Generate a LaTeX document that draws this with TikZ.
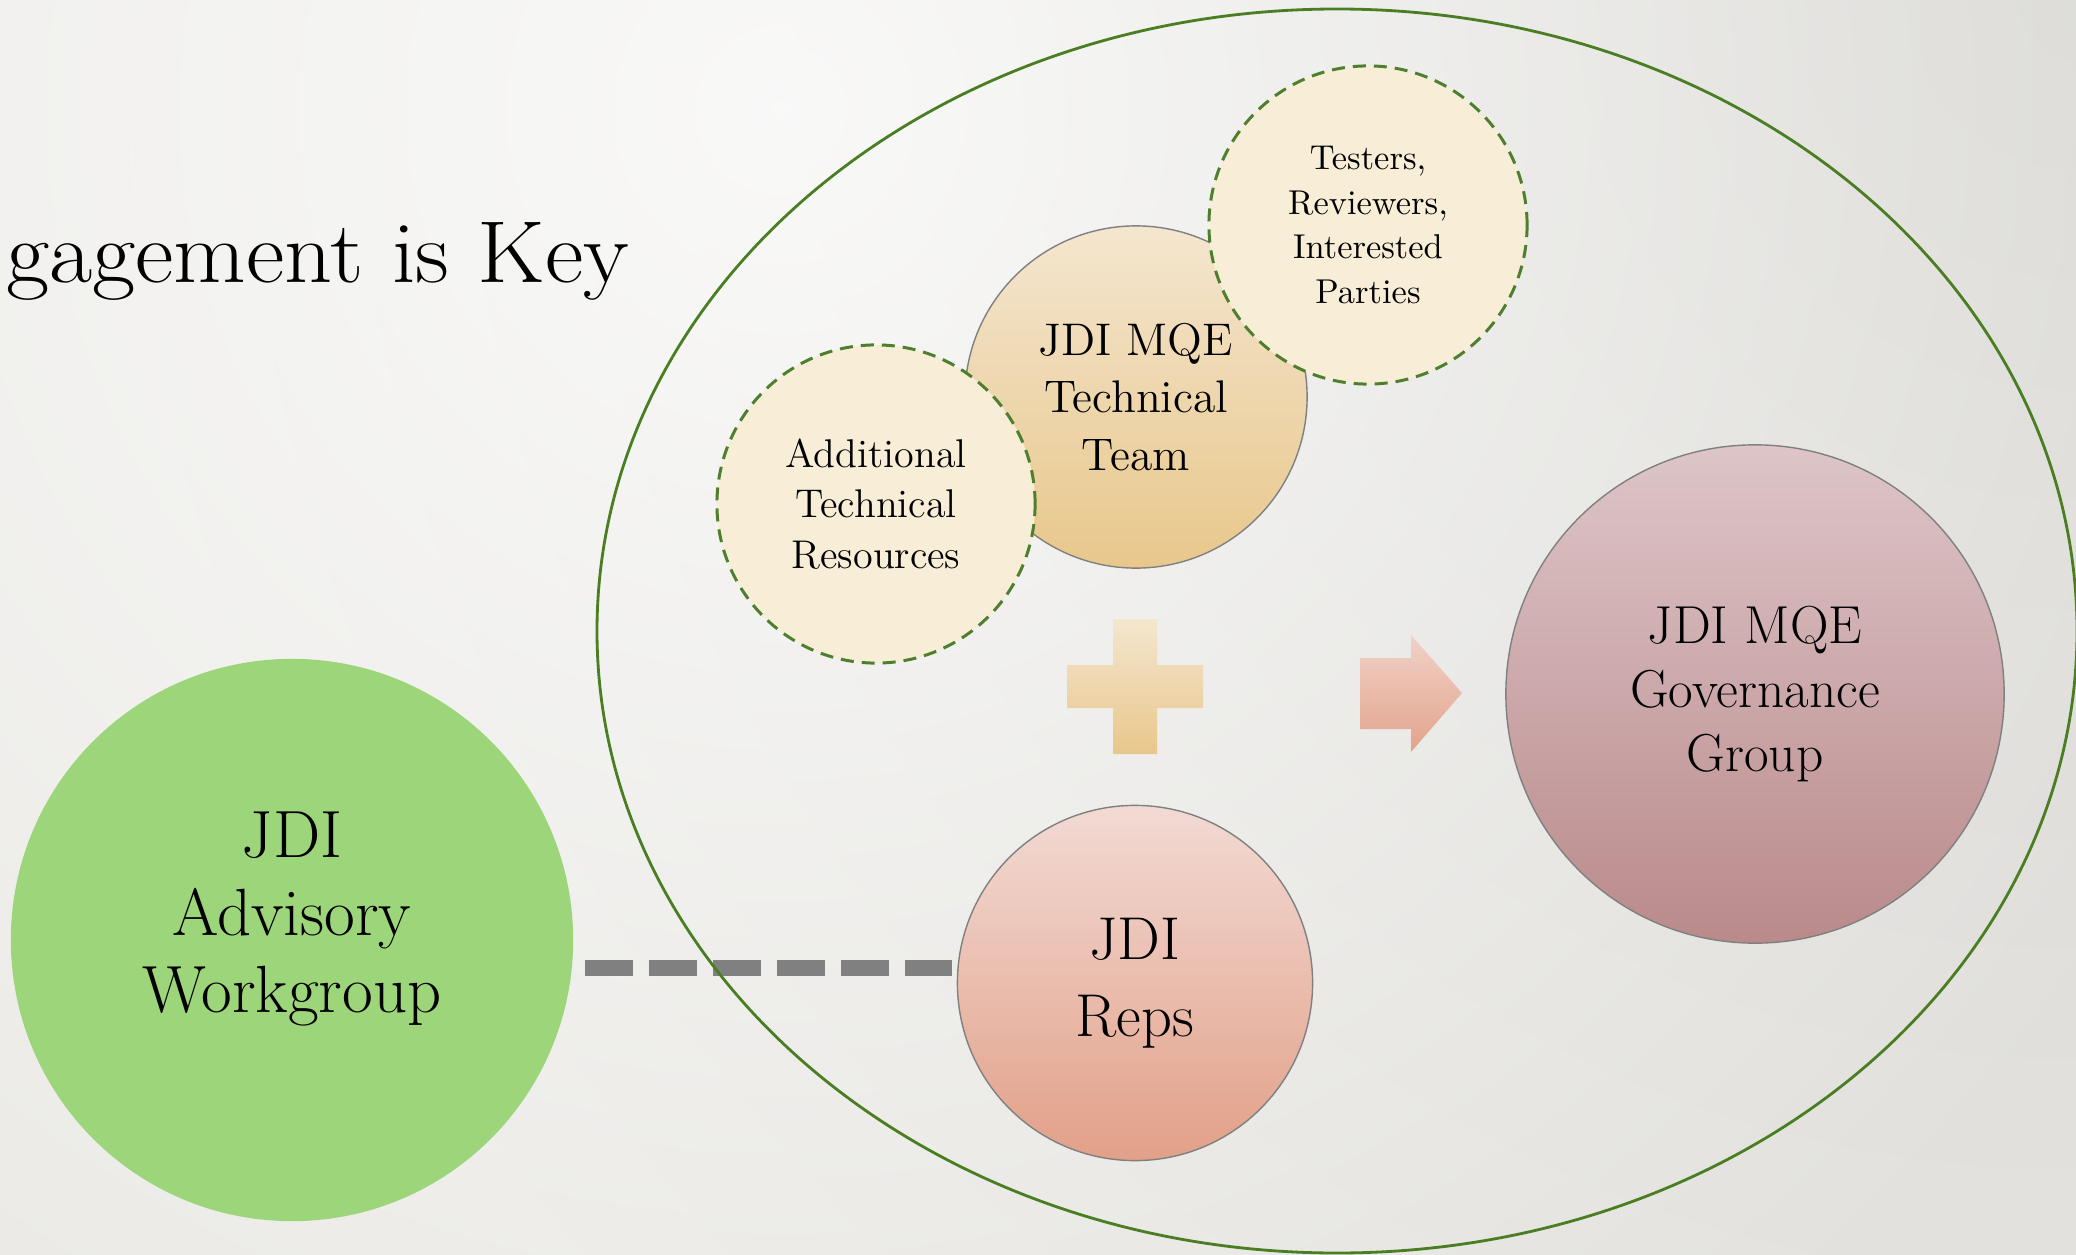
\documentclass[tikz,border=0pt]{standalone}
\usetikzlibrary{fadings}
\definecolor{bgbase}{HTML}{E9E8E4}
\definecolor{ringgreen}{HTML}{4B7D23}
\definecolor{dashgreen}{HTML}{4E7F2E}
\definecolor{awgreen}{HTML}{9DD57A}
\definecolor{cream}{HTML}{F8EED8}
\definecolor{sandtop}{HTML}{F4E6CF}
\definecolor{sandbot}{HTML}{E8C78B}
\definecolor{mauvetop}{HTML}{DDC5C8}
\definecolor{mauvebot}{HTML}{BA8A8B}
\definecolor{salmontop}{HTML}{F2DAD4}
\definecolor{salmonbot}{HTML}{E2A088}
\definecolor{arrowtop}{HTML}{F0D2C8}
\definecolor{arrowbot}{HTML}{E3A38B}
\definecolor{rimgray}{HTML}{808080}
\tikzfading[name=glowfade,inner color=transparent!0,outer color=transparent!100]
\begin{document}
\begin{tikzpicture}[x=0.01cm,y=-0.01cm,
	blob/.style={circle,inner sep=0pt,align=center},
	solid blob/.style={blob,draw=rimgray,line width=0.4pt},
	dashed blob/.style={blob,draw=dashgreen,fill=cream,line width=0.85pt,dash pattern=on 0.13cm off 0.08cm},
	linkdash/.style={draw=rimgray,line width=0.16cm,dash pattern=on 0.48cm off 0.16cm}]
	\useasboundingbox (0,0) rectangle (2076,1255);
	\begin{scope}
	\clip (0,0) rectangle (2076,1255);
	\fill[bgbase] (0,0) rectangle (2076,1255);
	\fill[black,opacity=0.07,path fading=glowfade] (2076,0) circle (2000);
	\fill[white,opacity=0.8,path fading=glowfade] (780,110) circle (1600);
	\end{scope}
	\node[anchor=base east,inner sep=0pt,xscale=1.07,font=\fontsize{25}{30}\selectfont] (title) at (630,283) {gagement is Key};
	\node[blob,fill=awgreen,minimum size=5.62cm,text depth=0.55cm,font=\fontsize{19}{22}\selectfont] (advisory) at (292,940) {JDI\\Advisory\\Workgroup};
	\node[solid blob,top color=sandtop,bottom color=sandbot,minimum size=3.42cm,font=\fontsize{13}{16.3}\selectfont] (techteam) at (1136,397) {JDI MQE\\Technical\\Team};
	\node[dashed blob,minimum size=3.18cm,font=\fontsize{11.4}{14.4}\selectfont] (extra) at (876,504) {Additional\\Technical\\Resources};
	\node[dashed blob,minimum size=3.18cm,font=\fontsize{9.8}{12.7}\selectfont] (testers) at (1368,225) {Testers,\\Reviewers,\\Interested\\Parties};
	\node[solid blob,top color=mauvetop,bottom color=mauvebot,minimum size=4.98cm,font=\fontsize{15.2}{18.3}\selectfont] (govern) at (1755,694) {JDI MQE\\Governance\\Group};
	\node[solid blob,top color=salmontop,bottom color=salmonbot,minimum size=3.55cm,font=\fontsize{17.2}{22}\selectfont] (reps) at (1135,983) {JDI\\Reps};
	\shade[top color=sandtop,bottom color=sandbot] (1113,619) -- (1157,619) -- (1157,665) -- (1203,665) -- (1203,708) -- (1157,708)
		-- (1157,754) -- (1113,754) -- (1113,708) -- (1067,708) -- (1067,665) -- (1113,665) -- cycle;
	\shade[top color=arrowtop,bottom color=arrowbot] (1360,658) -- (1411,658) -- (1411,635) -- (1462,693) -- (1411,752) -- (1411,729) -- (1360,729) -- cycle;
	\coordinate (lnk) at (0,968);
	\draw[linkdash] ([xshift=0.11cm]advisory.east |- lnk) -- ([xshift=-0.05cm]reps.west |- lnk);
	\draw[ringgreen,line width=0.8pt] (1337,631) ellipse (740 and 622);
\end{tikzpicture}
\end{document}
